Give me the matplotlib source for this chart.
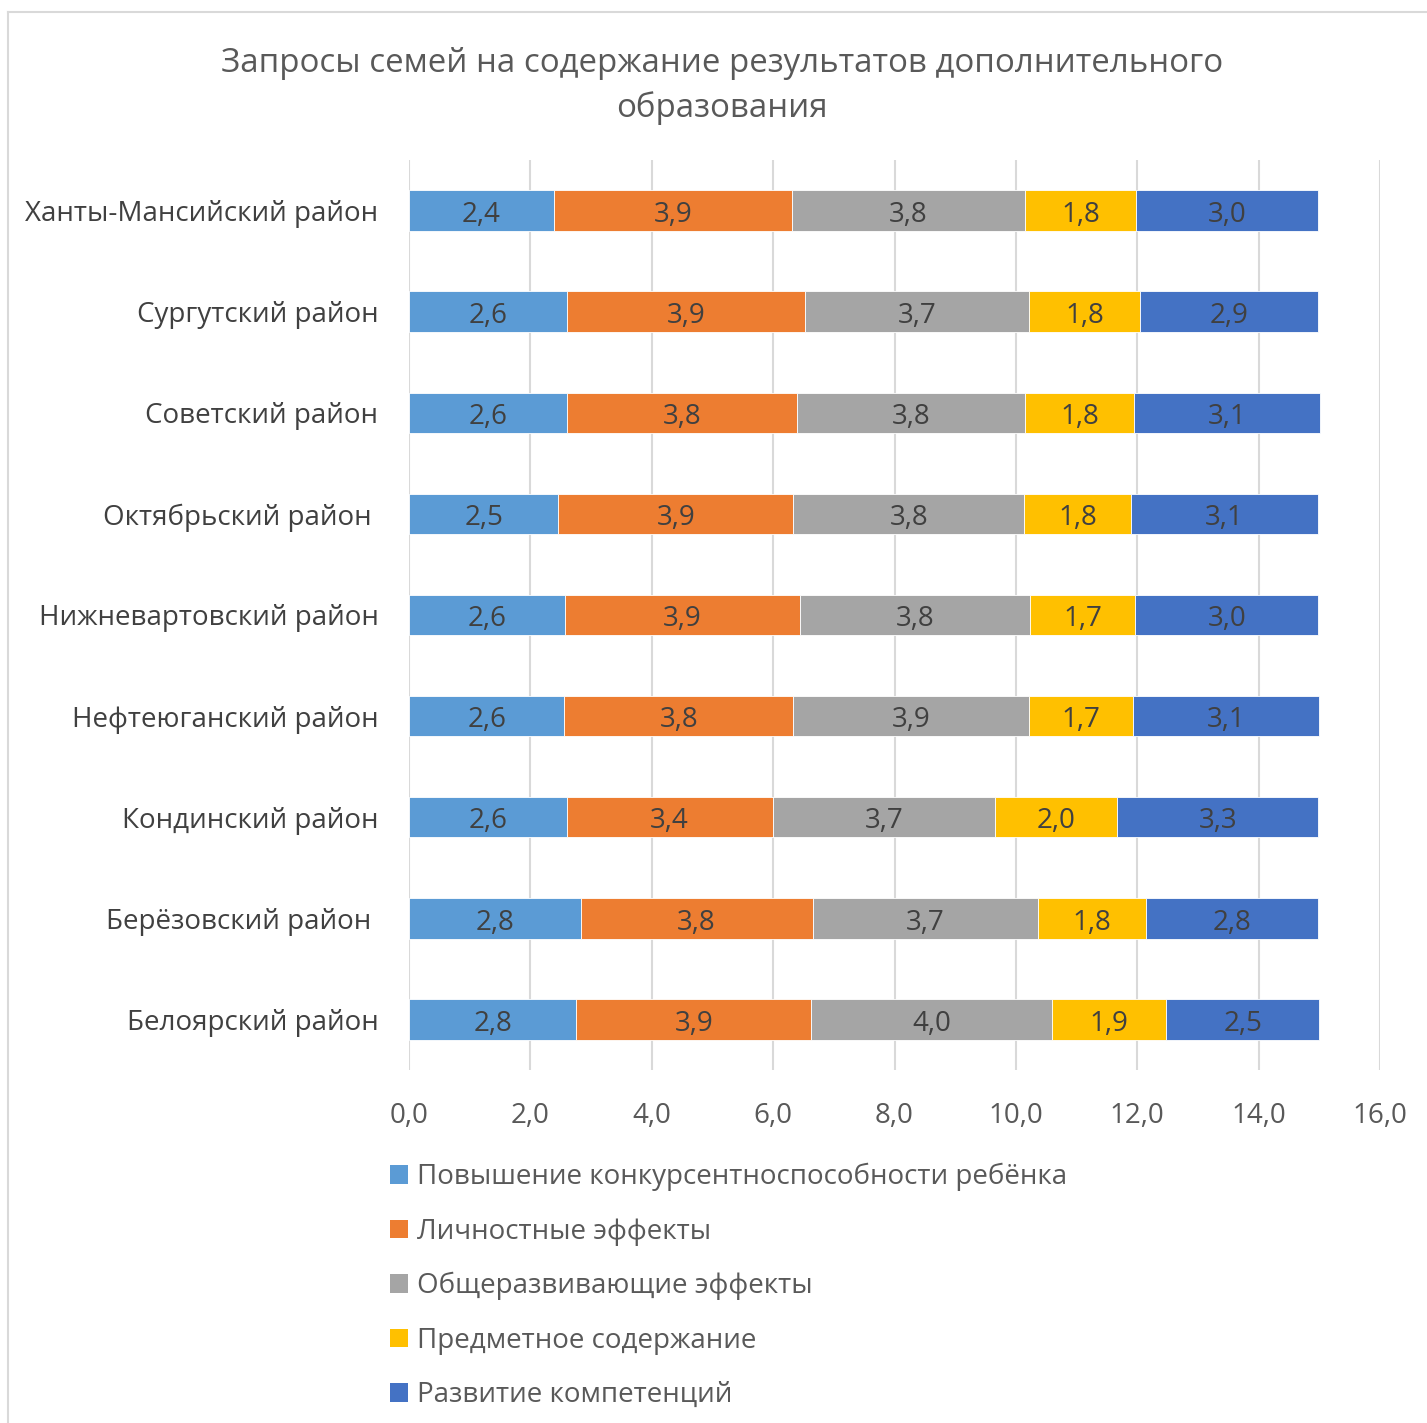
import matplotlib
matplotlib.use("Agg")
import matplotlib.pyplot as plt
from matplotlib.patches import Patch
from matplotlib.lines import Line2D
import numpy as np

plt.rcParams['font.family'] = ['Open Sans', 'DejaVu Sans']

title = "Запросы семей на содержание результатов дополнительного\nобразования"

categories = [
    "Ханты-Мансийский район",
    "Сургутский район",
    "Советский район",
    "Октябрьский район ",
    "Нижневартовский район",
    "Нефтеюганский район",
    "Кондинский район",
    "Берёзовский район ",
    "Белоярский район",
]

series_names = [
    "Повышение конкурсентноспособности ребёнка",
    "Личностные эффекты",
    "Общеразвивающие эффекты",
    "Предметное содержание",
    "Развитие компетенций",
]

competitiveness = [2.39, 2.60, 2.60, 2.46, 2.57, 2.56, 2.60, 2.83, 2.76]
personal = [3.92, 3.93, 3.79, 3.87, 3.87, 3.77, 3.39, 3.82, 3.87]
general = [3.84, 3.69, 3.76, 3.81, 3.79, 3.89, 3.67, 3.72, 3.97]
subject = [1.83, 1.83, 1.80, 1.76, 1.74, 1.71, 2.01, 1.78, 1.88]
competences = [3.00, 2.93, 3.06, 3.08, 3.01, 3.06, 3.31, 2.83, 2.52]

series = [competitiveness, personal, general, subject, competences]
colors = ["#5B9BD5", "#ED7D31", "#A5A5A5", "#FFC000", "#4472C4"]

x_ticks = [0, 2, 4, 6, 8, 10, 12, 14, 16]

fig = plt.figure(figsize=(14.27, 14.23), dpi=100)
ax = fig.add_axes([409/1427, 1 - 1070/1423, (1380-409)/1427, (1070-160)/1423])

y = np.arange(len(categories))
left = np.zeros(len(categories))
for vals, col, name in zip(series, colors, series_names):
    bars = ax.barh(y, vals, left=left, height=0.4, color=col, label=name,
                   edgecolor='white', linewidth=0.6, zorder=3)
    texts = ax.bar_label(bars, labels=[f"{v:.1f}".replace('.', ',') for v in vals],
                         label_type='center', fontsize=20, color='#404040')
    for t in texts:
        t.xyann = (0, -3)
    left = left + np.array(vals)

ax.set_ylim(-0.5, len(categories) - 0.5)
ax.invert_yaxis()
ax.set_xlim(0, 16)
ax.set_xticks(x_ticks)
ax.set_xticklabels([f"{t:.1f}".replace('.', ',') for t in x_ticks])
ax.set_yticks(y)
ax.set_yticklabels(categories)
ax.tick_params(axis='x', length=0, pad=23, labelsize=20, labelcolor='#595959')
ax.tick_params(axis='y', length=0, pad=22, labelsize=20, labelcolor='#404040')
ax.grid(axis='x', color='#D9D9D9', linewidth=1.5, zorder=0)
for s in ax.spines.values():
    s.set_visible(False)

fig.suptitle(title, x=722/1427, y=1 - 47/1423, fontsize=23.8, color='#595959',
             va='top', linespacing=1.42)

handles = [Patch(facecolor=c, edgecolor='none') for c in colors]
leg = fig.legend(handles, series_names, loc='upper left',
                 bbox_to_anchor=(390/1427, 1 - 1163/1423), frameon=False,
                 fontsize=20, labelcolor='#595959', handlelength=0.65,
                 handleheight=0.65, handletextpad=0.32, labelspacing=0.95,
                 borderaxespad=0, borderpad=0)

# chart frame (left and top edges visible)
fig.add_artist(Line2D([8/1427, 8/1427], [0, 1 - 12/1423], transform=fig.transFigure,
                      color='#D9D9D9', linewidth=1.5))
fig.add_artist(Line2D([8/1427, 1], [1 - 12/1423, 1 - 12/1423], transform=fig.transFigure,
                      color='#D9D9D9', linewidth=1.5))

fig.savefig("out.png", dpi=100, facecolor='white')
